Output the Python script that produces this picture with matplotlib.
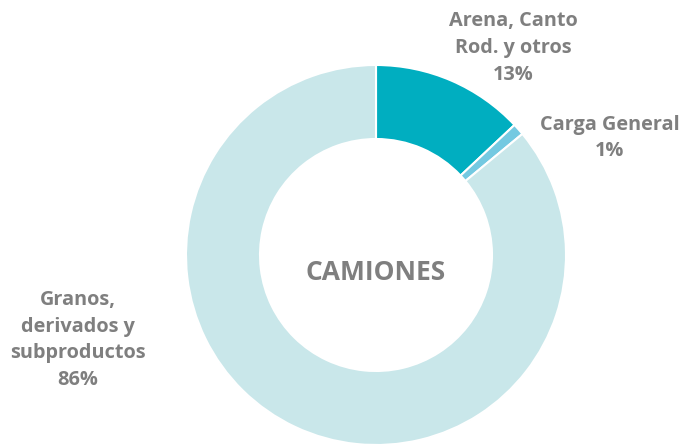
import matplotlib.pyplot as plt

# shares of truck cargo
categories = ['Arena, Canto\nRod. y otros', 'Carga General', 'Granos,\nderivados y\nsubproductos']
shares = [13, 1, 86]
colors = ['#00AEC0', '#74C9E1', '#C9E7EA']

W, H = 683, 444
fig = plt.figure(figsize=(W / 100, H / 100), dpi=100)
ax = fig.add_axes([0, 0, 1, 1])

# work in pixel coords (y up)
cx, cy, r = 376, H - 255, 190
ax.pie(shares, colors=colors, startangle=90, counterclock=False,
       center=(cx, cy), radius=r, frame=True,
       wedgeprops=dict(width=r - 116, edgecolor='white', linewidth=1.5))
ax.set_xlim(0, W)
ax.set_ylim(0, H)
ax.set_aspect('equal')
ax.axis('off')

txt = dict(family='Open Sans', weight='bold', color='#7F7F7F', fontsize=14.3,
           ha='center', va='center', linespacing=1.45)
label_pos = [(513, H - 48), (610, H - 138), (78, H - 340)]
for name, val, (x, y) in zip(categories, shares, label_pos):
    ax.text(x, y, f'{name}\n{val}%', **txt)

ax.text(cx, H - 273, 'CAMIONES', family='Open Sans', weight='bold', color='#7F7F7F',
        fontsize=19, ha='center', va='center')

fig.savefig('out.png', dpi=100)
